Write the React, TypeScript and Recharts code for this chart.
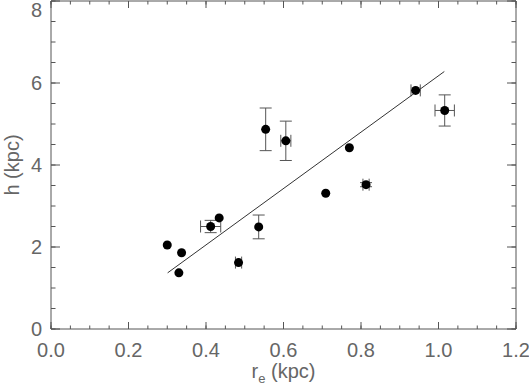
import React from "react";
import { ErrorBar, Scatter, ScatterChart, XAxis, YAxis } from "recharts";

// effective radius (kpc) vs scale height (kpc)
const re = [0.3, 0.337, 0.33, 0.412, 0.434, 0.484, 0.536, 0.554, 0.606, 0.709, 0.77, 0.813, 0.941, 1.016];
const h = [2.05, 1.86, 1.37, 2.5, 2.71, 1.62, 2.49, 4.87, 4.59, 3.31, 4.42, 3.52, 5.82, 5.33];
const reErr = [0, 0, 0, 0.026, 0, 0.008, 0, 0, 0.013, 0, 0, 0.008, 0.012, 0.025];
const hErr = [0, 0, 0, 0.15, 0, 0, 0.29, 0.52, 0.48, 0, 0, 0.05, 0, 0.38];

const fitRe = [0.301, 1.015];
const fitH = [1.37, 6.28];

const xMajor = [0, 0.2, 0.4, 0.6, 0.8, 1.0, 1.2];
const xMinor = [0, 0.05, 0.1, 0.15, 0.2, 0.25, 0.3, 0.35, 0.4, 0.45, 0.5, 0.55, 0.6, 0.65, 0.7, 0.75, 0.8, 0.85, 0.9, 0.95, 1.0, 1.05, 1.1, 1.15, 1.2];
const yMajor = [0, 2, 4, 6, 8];
const yMinor = [0, 0.5, 1, 1.5, 2, 2.5, 3, 3.5, 4, 4.5, 5, 5.5, 6, 6.5, 7, 7.5, 8];

const points = re.map((x, i) => ({ x, y: h[i], ex: reErr[i], ey: hErr[i] }));
const fit = fitRe.map((x, i) => ({ x, y: fitH[i] }));

const AXIS = "#555";
const TEXT = "#666";
const FONT = "'Liberation Sans', Arial, sans-serif";
const blank = () => "";
const THIN = 0.01; // near-zero size so the tick-only axes don't push each other around

function Dot(props: any) {
  return <circle cx={props.cx} cy={props.cy} r={4.5} fill="#000" />;
}

const Nothing = () => <g />;

function YTick(props: any) {
  const { x, y, payload } = props;
  return (
    <text x={x} y={Math.max(y, 10)} textAnchor="end" dominantBaseline="central" fontSize={20} fill={TEXT} fontFamily={FONT}>
      {payload.value}
    </text>
  );
}

function XLabel(props: any) {
  const vb = props.viewBox || {};
  const cx = vb.x + vb.width / 2;
  return (
    <text x={cx} y={vb.y + 49} textAnchor="middle" fontSize={20} fill={TEXT} fontFamily={FONT}>
      r<tspan fontSize={13} dy={5}>e</tspan>
      <tspan dy={-5}>{" (kpc)"}</tspan>
    </text>
  );
}

function YLabel(props: any) {
  const vb = props.viewBox || {};
  const cy = vb.y + vb.height / 2;
  return (
    <text x={19} y={cy} transform={`rotate(-90, 19, ${cy})`} textAnchor="middle" fontSize={20} fill={TEXT} fontFamily={FONT}>
      h (kpc)
    </text>
  );
}

const xTickAxis = (id: string, orientation: "top" | "bottom", ticks: number[], size: number, line: boolean) => (
  <XAxis
    key={id}
    xAxisId={id}
    dataKey="x"
    type="number"
    domain={[0, 1.2]}
    allowDataOverflow
    ticks={ticks}
    interval={0}
    orientation={orientation}
    mirror
    height={THIN}
    tickSize={size}
    tickLine={{ stroke: AXIS }}
    axisLine={line ? { stroke: AXIS } : false}
    tickFormatter={blank}
  />
);

const yTickAxis = (id: string, orientation: "left" | "right", ticks: number[], size: number, line: boolean) => (
  <YAxis
    key={id}
    yAxisId={id}
    dataKey="y"
    type="number"
    domain={[0, 8]}
    allowDataOverflow
    ticks={ticks}
    interval={0}
    orientation={orientation}
    mirror
    width={THIN}
    tickSize={size}
    tickLine={{ stroke: AXIS }}
    axisLine={line ? { stroke: AXIS } : false}
    tickFormatter={blank}
  />
);

const tickPairs = [
  ["bMaj", "lMaj"],
  ["bMin", "lMin"],
  ["tMaj", "rMaj"],
  ["tMin", "rMin"],
];

export default function App() {
  return (
    <div style={{ position: "absolute", left: 0, top: 0, background: "#fff" }}>
      <ScatterChart width={529} height={386} margin={{ top: 1, right: 13, bottom: 0, left: 0 }}>
        <XAxis
          xAxisId="main"
          dataKey="x"
          type="number"
          domain={[0, 1.2]}
          ticks={xMajor}
          interval={0}
          height={57}
          tickLine={false}
          tickSize={0}
          tickMargin={14}
          axisLine={{ stroke: AXIS }}
          tickFormatter={(v: number) => v.toFixed(1)}
          tick={{ fontSize: 20, fill: TEXT, fontFamily: FONT }}
          label={<XLabel />}
        />
        {xTickAxis("bMaj", "bottom", xMajor, 7, false)}
        {xTickAxis("bMin", "bottom", xMinor, 3.5, false)}
        {xTickAxis("tMaj", "top", xMajor, 7, true)}
        {xTickAxis("tMin", "top", xMinor, 3.5, false)}

        <YAxis
          yAxisId="main"
          dataKey="y"
          type="number"
          domain={[0, 8]}
          ticks={yMajor}
          interval={0}
          width={51}
          tickLine={false}
          tickSize={0}
          tickMargin={9}
          axisLine={{ stroke: AXIS }}
          tick={<YTick />}
          label={<YLabel />}
        />
        {yTickAxis("lMaj", "left", yMajor, 9, false)}
        {yTickAxis("lMin", "left", yMinor, 4.5, false)}
        {yTickAxis("rMaj", "right", yMajor, 9, true)}
        {yTickAxis("rMin", "right", yMinor, 4.5, false)}

        {tickPairs.map(([xa, ya]) => (
          <Scatter key={xa} xAxisId={xa} yAxisId={ya} data={points} shape={Nothing} isAnimationActive={false} />
        ))}

        <Scatter
          xAxisId="main"
          yAxisId="main"
          data={fit}
          line={{ stroke: "#333", strokeWidth: 1 }}
          shape={Nothing}
          isAnimationActive={false}
        />
        <Scatter xAxisId="main" yAxisId="main" data={points} shape={<Dot />} isAnimationActive={false}>
          <ErrorBar dataKey="ex" direction="x" width={6} stroke={AXIS} strokeWidth={1} />
          <ErrorBar dataKey="ey" direction="y" width={6} stroke={AXIS} strokeWidth={1} />
        </Scatter>
      </ScatterChart>
    </div>
  );
}
